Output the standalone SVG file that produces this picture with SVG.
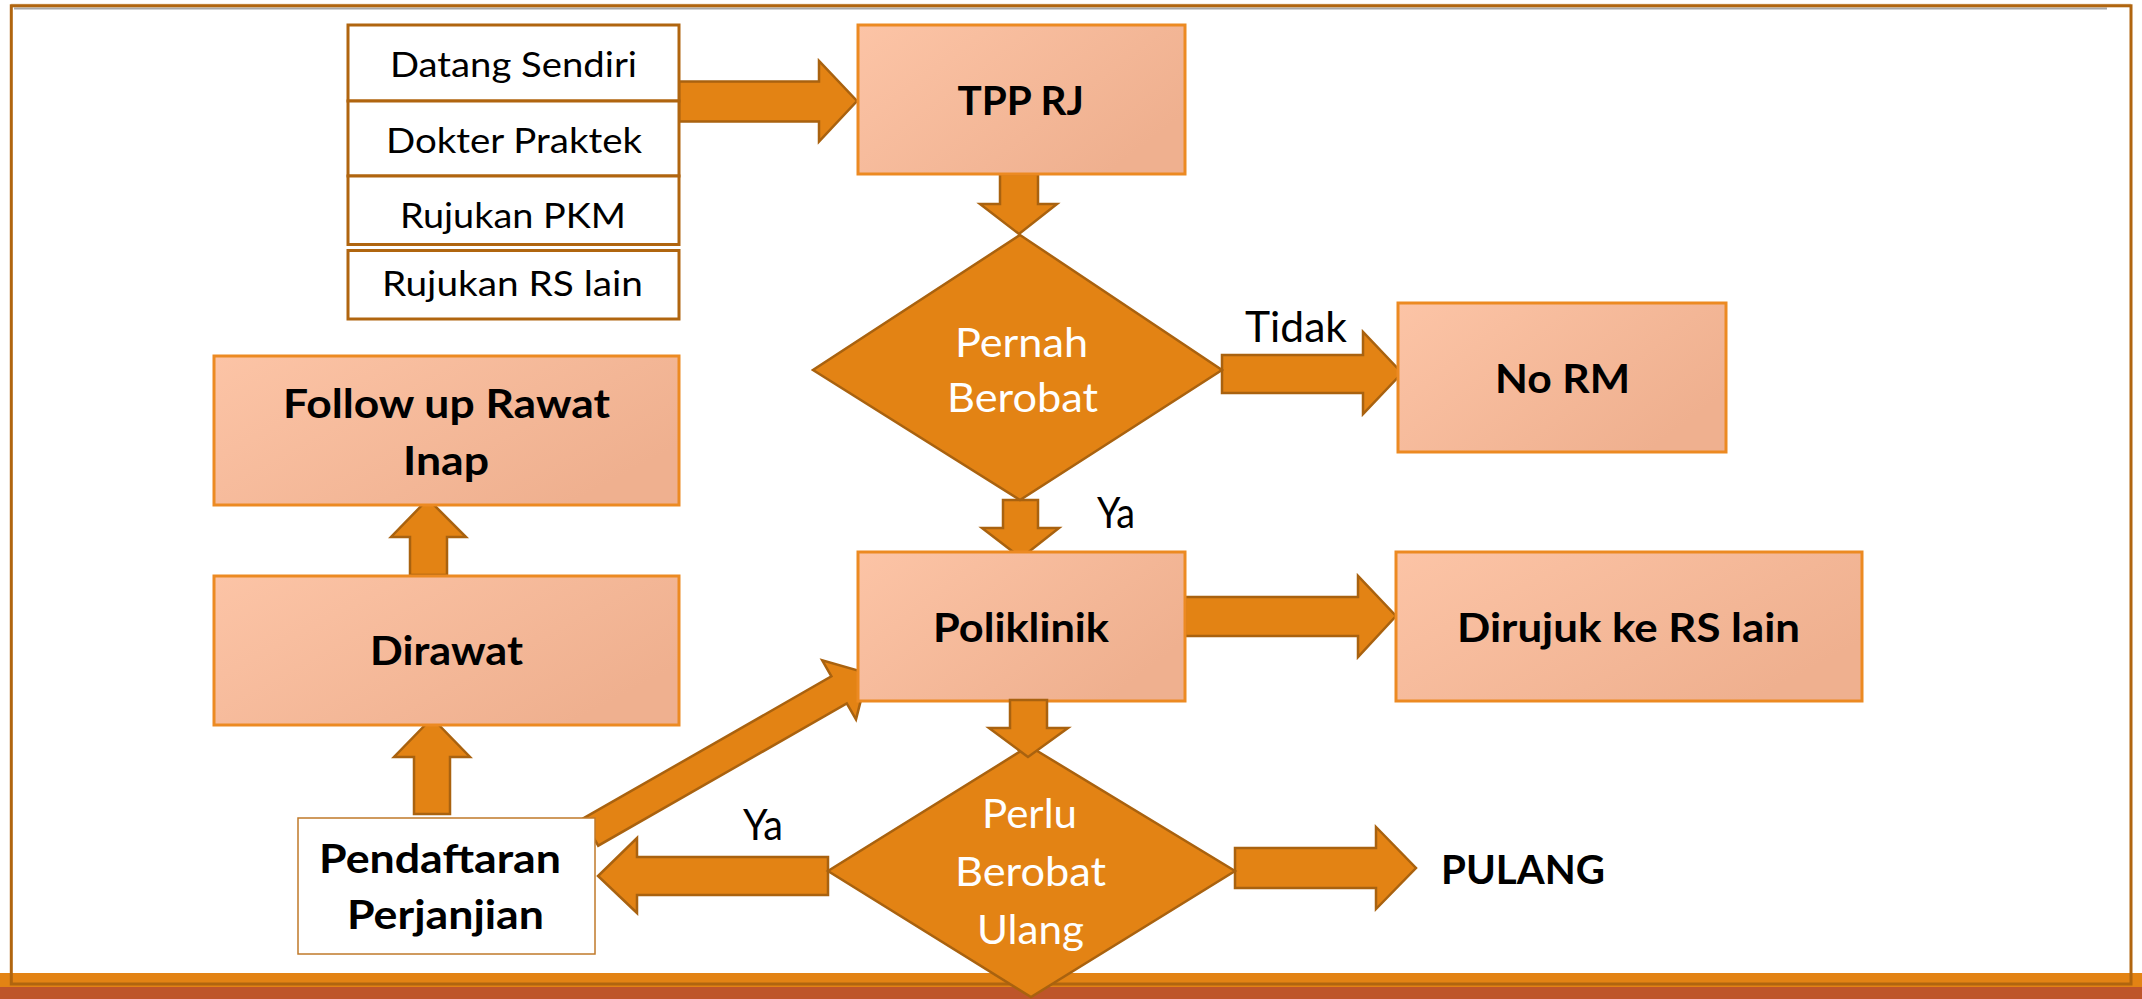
<svg xmlns="http://www.w3.org/2000/svg" width="2142" height="999" viewBox="0 0 2142 999">
<defs>
<linearGradient id="peach" x1="0" y1="0" x2="1" y2="0.6">
<stop offset="0" stop-color="#FCC4A6"/>
<stop offset="1" stop-color="#EFB08F"/>
</linearGradient>
</defs>
<style>
.box{fill:url(#peach);stroke:#EC8A22;stroke-width:3}
.src{fill:#FFFFFF;stroke:#B0650F;stroke-width:3}
.arr{fill:#E38314;stroke:#A9620F;stroke-width:2.5;stroke-linejoin:miter}
.dia{fill:#E38314;stroke:#A9620F;stroke-width:2.5}
.t{font-family:Lato,"Liberation Sans",sans-serif;fill:#000000}
.r{font-size:35px}
.lbl{font-size:42px}
.b{font-size:40px;font-weight:bold}
.w{font-family:Lato,"Liberation Sans",sans-serif;fill:#FFFFFF;font-size:41px}
</style>
<rect x="0" y="0" width="2142" height="999" fill="#FFFFFF"/>
<g id="frame">
<rect x="0" y="973" width="2142" height="14" fill="#E38314"/>
<rect x="0" y="987" width="2142" height="12" fill="#BE552A"/>
<line x1="14" y1="8.5" x2="2107" y2="8.5" stroke="#A8A8A8" stroke-width="2"/>
<line x1="11" y1="4.5" x2="2131" y2="4.5" stroke="#E5C9A8" stroke-width="1.5"/>
<rect x="11.3" y="5.8" width="2119.7" height="978.2" fill="none" stroke="#B0650F" stroke-width="3"/>
</g>
<g id="connectors">
<polygon class="arr" points="679,81.5 819,81.5 819,61 857,101 819,141.5 819,121.5 679,121.5"/>
<polygon class="arr" points="1000,174 1038,174 1038,204 1057,204 1019,234 980,204 1000,204"/>
<polygon class="arr" points="1222,355 1363,355 1363,332 1402,373 1363,414 1363,393 1222,393"/>
<polygon class="arr" points="1003,500 1038,500 1038,528 1059,528 1021,558 982,528 1003,528"/>
<polygon class="arr" points="1185,597 1358,597 1358,576 1396,616 1358,657 1358,636 1185,636"/>
<polygon class="arr" points="828,857 637,857 637,838 598,876 637,913 637,895 828,895"/>
<polygon class="arr" points="1235,848 1376,848 1376,827 1416,868 1376,909 1376,888 1235,888"/>
<polygon class="arr" points="414,814 414,757 394,757 432,718 470,757 450,757 450,814"/>
<polygon class="arr" points="410,575 410,537 391,537 428,499 466,537 447,537 447,575"/>
<polygon class="arr" points="582.8,818.7 831.4,676.4 822.2,660.4 867.7,673.3 856,719.4 846.8,703.4 598.2,845.7"/>
</g>
<g id="node-sources">
<rect class="src" x="348" y="25" width="331" height="76"/>
<rect class="src" x="348" y="101" width="331" height="75"/>
<rect class="src" x="348" y="176" width="331" height="68.5"/>
<rect class="src" x="348" y="250.5" width="331" height="68.5"/>
<text class="t r" x="390" y="77" textLength="247" lengthAdjust="spacingAndGlyphs">Datang Sendiri</text>
<text class="t r" x="386" y="153" textLength="256" lengthAdjust="spacingAndGlyphs">Dokter Praktek</text>
<text class="t r" x="400" y="228" textLength="226" lengthAdjust="spacingAndGlyphs">Rujukan PKM</text>
<text class="t r" x="382" y="296" textLength="261" lengthAdjust="spacingAndGlyphs">Rujukan RS lain</text>
</g>
<g id="node-tpprj">
<rect class="box" x="858" y="25" width="327" height="149"/>
<text class="t b" x="957.5" y="115" textLength="126.5" lengthAdjust="spacingAndGlyphs">TPP RJ</text>
</g>
<g id="node-pernah">
<polygon class="dia" points="1020,235 1222,370 1020,500 813,370"/>
<text class="w" x="955" y="357" textLength="133" lengthAdjust="spacingAndGlyphs">Pernah</text>
<text class="w" x="947" y="412" textLength="151" lengthAdjust="spacingAndGlyphs">Berobat</text>
</g>
<g id="node-norm">
<rect class="box" x="1398" y="303" width="328" height="149"/>
<text class="t b" x="1495" y="393" textLength="135" lengthAdjust="spacingAndGlyphs">No RM</text>
</g>
<g id="node-poliklinik">
<rect class="box" x="858" y="552" width="327" height="149"/>
<text class="t b" x="933" y="642" textLength="176" lengthAdjust="spacingAndGlyphs">Poliklinik</text>
</g>
<g id="node-dirujuk">
<rect class="box" x="1396" y="552" width="466" height="149"/>
<text class="t b" x="1457" y="642" textLength="343" lengthAdjust="spacingAndGlyphs">Dirujuk ke RS lain</text>
</g>
<g id="node-followup">
<rect class="box" x="214" y="356" width="465" height="149"/>
<text class="t b" x="283" y="418" textLength="327" lengthAdjust="spacingAndGlyphs">Follow up Rawat</text>
<text class="t b" x="403" y="475" textLength="86" lengthAdjust="spacingAndGlyphs">Inap</text>
</g>
<g id="node-dirawat">
<rect class="box" x="214" y="576" width="465" height="149"/>
<text class="t b" x="370" y="665" textLength="153" lengthAdjust="spacingAndGlyphs">Dirawat</text>
</g>
<g id="node-pendaftaran">
<rect x="298" y="818" width="297" height="136" fill="#FFFFFF" stroke="#C07A2A" stroke-width="1.5"/>
<text class="t b" x="319" y="873" textLength="242" lengthAdjust="spacingAndGlyphs">Pendaftaran</text>
<text class="t b" x="347" y="929" textLength="197" lengthAdjust="spacingAndGlyphs">Perjanjian</text>
</g>
<g id="node-perlu">
<polygon class="dia" points="1029,746 1235,871 1031,997 828,871"/>
<text class="w" x="982" y="828" textLength="95" lengthAdjust="spacingAndGlyphs">Perlu</text>
<text class="w" x="955" y="886" textLength="151" lengthAdjust="spacingAndGlyphs">Berobat</text>
<text class="w" x="977" y="944" textLength="107" lengthAdjust="spacingAndGlyphs">Ulang</text>
</g>
<g id="node-pulang">
<text class="t b" x="1441" y="884" textLength="164" lengthAdjust="spacingAndGlyphs">PULANG</text>
</g>
<g id="labels">
<text class="t lbl" x="1245" y="342" textLength="102" lengthAdjust="spacingAndGlyphs">Tidak</text>
<text class="t lbl" x="1097" y="528" textLength="38" lengthAdjust="spacingAndGlyphs">Ya</text>
<text class="t lbl" x="743" y="840" textLength="40" lengthAdjust="spacingAndGlyphs">Ya</text>
</g>
<polygon class="arr" points="1010,700 1047,700 1047,728 1068,728 1028,757 989,728 1010,728"/>
</svg>
